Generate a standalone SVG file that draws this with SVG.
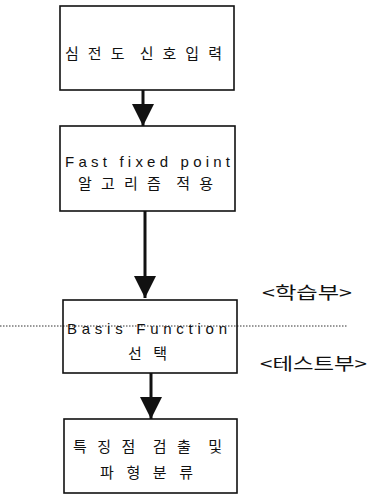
<svg xmlns="http://www.w3.org/2000/svg" width="372" height="504" viewBox="0 0 372 504">
<style>
text{white-space:pre}
.box{fill:#fff;stroke:#111;stroke-width:1.6}
.t{font-family:"Liberation Sans","Noto Sans CJK KR",sans-serif;font-size:15px;fill:#111}
.k{font-family:"Noto Sans CJK KR",sans-serif;font-size:15px;fill:#111}
.lbl{font-family:"Noto Sans CJK KR",sans-serif;font-size:17px;fill:#111}
.arr{stroke:#111;stroke-width:3;fill:none}
.dot{stroke:#333;stroke-width:1;stroke-dasharray:1.5 1.5;fill:none}
</style>
<defs>
<marker id="ah" viewBox="0 0 10 10" refX="10" refY="5" markerWidth="7.5" markerHeight="7.5" markerUnits="strokeWidth" orient="auto">
<path d="M0,0 L10,5 L0,10 z" fill="#111"/>
</marker>
</defs>
<g id="connectors">
<line class="arr" x1="143" y1="90" x2="143" y2="126" marker-end="url(#ah)"/>
<line class="arr" x1="145" y1="211" x2="145" y2="298" marker-end="url(#ah)"/>
<line class="arr" x1="151" y1="373" x2="151" y2="419" marker-end="url(#ah)"/>
</g>
<line class="dot" x1="0" y1="326" x2="347" y2="326"/>
<g id="n1">
<rect class="box" x="60" y="6" width="174" height="84"/>
<text class="k" x="65" y="59" textLength="157" lengthAdjust="spacing" xml:space="preserve">심 전 도  신 호 입 력</text>
</g>
<g id="n2">
<rect class="box" x="60" y="126" width="175" height="85"/>
<text class="t" x="65" y="167" textLength="165" lengthAdjust="spacing">Fast fixed point</text>
<text class="k" x="78" y="189" textLength="135" lengthAdjust="spacing" xml:space="preserve">알 고 리 즘  적 용</text>
</g>
<g id="n3">
<rect class="box" x="63" y="300" width="174" height="73" style="fill:none"/>
<text class="t" x="67" y="334" textLength="160" lengthAdjust="spacing">Basis Function</text>
<text class="k" x="128" y="359" textLength="39" lengthAdjust="spacing">선 택</text>
</g>
<g id="n4">
<rect class="box" x="64" y="419" width="173" height="74"/>
<text class="k" x="73" y="452" textLength="149" lengthAdjust="spacing" xml:space="preserve">특 징 점  검 출  및</text>
<text class="k" x="100" y="478" textLength="93" lengthAdjust="spacing">파 형 분 류</text>
</g>
<g id="lbl1">
<text class="lbl" x="262" y="299" textLength="90" lengthAdjust="spacingAndGlyphs">&lt;학습부&gt;</text>
</g>
<g id="lbl2">
<text class="lbl" x="260" y="370" textLength="107" lengthAdjust="spacingAndGlyphs">&lt;테스트부&gt;</text>
</g>
</svg>
